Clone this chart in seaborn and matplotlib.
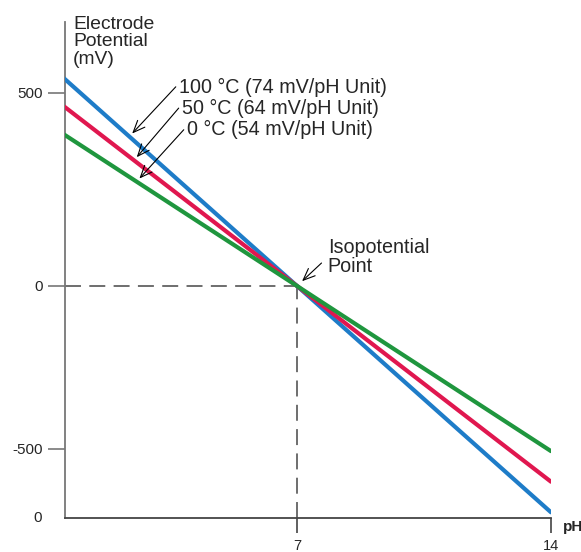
import numpy as np
import pandas as pd
import seaborn as sns
import matplotlib.pyplot as plt

# pH electrode response at three temperatures (lines cross at the isopotential point)
ph_ends = [0, 14]
temps = ['100 °C', '50 °C', '0 °C']
slopes = ['74', '64', '54']          # mV/pH unit, as labelled
e_100 = [518, -518]
e_50 = [448, -448]
e_0 = [378, -378]
iso_ph, iso_mv = 7, 0

# tick positions / labels as drawn on the (schematic) axes
ytick_pos = [442, 0, -373]
ytick_labels = ['500', '0', '-500']
xtick_pos = [7, 14]
xtick_labels = ['7', '14']

colors = ['#1e7cc8', '#e0174f', '#1f963e']

df = pd.DataFrame({
    'pH': ph_ends * 3,
    'mV': e_100 + e_50 + e_0,
    'temp': [t for t in temps for _ in ph_ends],
})

sns.set_style('ticks')
plt.rcParams['font.family'] = ['Liberation Sans', 'DejaVu Sans']
plt.rcParams['lines.scale_dashes'] = False

fig = plt.figure(figsize=(5.81, 5.52), dpi=100)
ax = fig.add_axes([65 / 581, 34 / 552, 486 / 581, 496 / 552])

ax.set_xlim(0.607, 14)
ax.set_ylim(-531, 604)

# dashed guides to the isopotential point
ax.plot([ax.get_xlim()[0], iso_ph], [iso_mv, iso_mv], color='#555555', lw=1.2,
        dashes=(11.5, 6), zorder=1)
ax.plot([iso_ph, iso_ph], [ax.get_ylim()[0], iso_mv], color='#555555', lw=1.2,
        dashes=(11.5, 6), zorder=1)

sns.lineplot(data=df, x='pH', y='mV', hue='temp', hue_order=temps,
             palette=colors, linewidth=3, legend=False, ax=ax, zorder=3)

sns.despine(ax=ax)
ax.spines['left'].set_color('#777777')
ax.spines['bottom'].set_color('#444444')
ax.spines['left'].set_linewidth(1.3)
ax.spines['bottom'].set_linewidth(1.3)

ax.set_yticks(ytick_pos, ytick_labels)
ax.set_xticks(xtick_pos, xtick_labels)
ax.tick_params(axis='y', length=12, width=1.2, color='#777777', pad=4, labelsize=11)
ax.tick_params(axis='x', length=11, width=1.2, color='#444444', pad=4, labelsize=10.5)
ax.set_xlabel('')
ax.set_ylabel('')

# extra "0" at the origin
ax.annotate('0', xy=(0, 0), xycoords='axes fraction', xytext=(-23, 0),
            textcoords='offset pixels', ha='right', va='center', fontsize=11)
ax.annotate('pH', xy=(1, 0), xycoords='axes fraction', xytext=(12, -9),
            textcoords='offset pixels', ha='left', va='center', fontsize=11,
            fontweight='bold')
ax.annotate('Electrode\nPotential\n(mV)', xy=(0, 1), xycoords='axes fraction',
            xytext=(8, 6), textcoords='offset pixels', ha='left', va='top',
            fontsize=13.9, linespacing=1.02, annotation_clip=False)

# temperature labels with arrows to each line
label_pos = [(3.75, 455), (3.83, 407), (3.97, 357)]
arrow_ph = [2.38, 2.51, 2.58]
for temp, slope, ys, (tx, ty), aph in zip(temps, slopes, [e_100, e_50, e_0],
                                          label_pos, arrow_ph):
    ay = np.interp(aph, ph_ends, ys)
    ax.annotate(f'{temp} ({slope} mV/pH Unit)', xy=(aph, ay), xytext=(tx, ty),
                ha='left', va='center', fontsize=14.2,
                arrowprops=dict(arrowstyle='->,head_length=0.6,head_width=0.25',
                                color='black', lw=0.8, relpos=(0, 0.7),
                                shrinkA=0, shrinkB=3))

ax.annotate('Isopotential\nPoint', xy=(iso_ph, iso_mv), xytext=(7.85, 66),
            ha='left', va='center', fontsize=14.2, linespacing=1.0,
            arrowprops=dict(arrowstyle='->,head_length=0.6,head_width=0.25',
                            color='black', lw=0.8, relpos=(0, 0.5),
                            shrinkA=3, shrinkB=5))

fig.savefig('out.png', dpi=100)
